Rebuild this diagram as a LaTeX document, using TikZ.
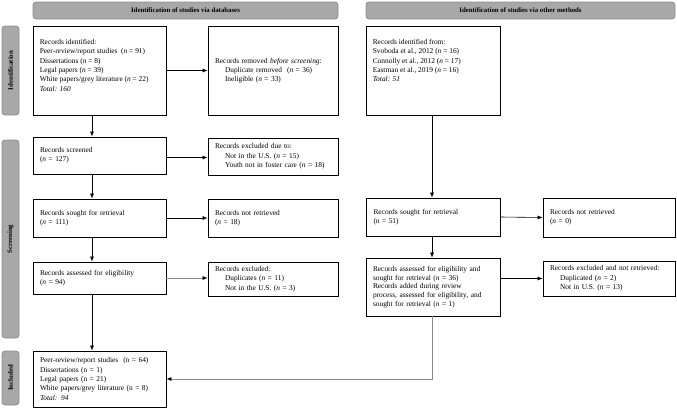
\documentclass[tikz,border=0pt]{standalone}
\usepackage{fontspec}
\setmainfont{Liberation Serif}
\usetikzlibrary{arrows.meta,calc}
\definecolor{hdrfill}{HTML}{A8A8A8}
\definecolor{hdrline}{HTML}{8C8C8C}
\definecolor{arrgray}{HTML}{8A8A8A}
\newcommand{\fs}{\fontsize{7.4}{9.3}\selectfont}
\newcommand{\nn}{\textit{n}}
\newcommand{\ind}{\hspace*{10pt}}
\begin{document}
\begin{tikzpicture}[x=1pt,y=-1pt,
  hdr/.style={draw=hdrline, fill=hdrfill, line width=0.7pt, rounded corners=3pt, inner sep=0pt,
    font=\fontsize{6.8}{8}\selectfont\bfseries},
  side/.style={hdr, rotate=90, minimum height=17pt},
  box/.style={draw=black, line width=0.8pt, inner xsep=7pt, inner ysep=0pt, align=left, font=\fs},
  txt/.style={inner sep=0pt, align=left, font=\fs, anchor=north west},
  arr/.style={draw=black, line width=0.6pt, -{Latex[length=5pt,width=4pt]}},
  arrg/.style={draw=arrgray, line width=0.7pt, -{Latex[length=5pt,width=4pt,color=black]}}
]
\useasboundingbox (0,0) rectangle (677,408);

% headers
\node[hdr, minimum width=305pt, minimum height=17pt] (hdrL) at (185.5,10.5) {Identification of studies via databases};
\node[hdr, minimum width=309pt, minimum height=17pt] (hdrR) at (520.5,10.5) {Identification of studies via other methods};

% side labels
\node[side, minimum width=89pt] (sideI) at (10.5,70.5) {Identification};
\node[side, minimum width=198pt] (sideS) at (10.5,239) {Screening};
\node[side, minimum width=54pt] (sideN) at (10.5,378) {Included};

% identification row
\node[box, text width=119pt, minimum height=89pt] (id1) at (99.5,70.5) {};
\node[txt] (id1t) at ([xshift=7pt,yshift=-13.5pt]id1.north west) {Records identified:\\
Peer-review/report studies~ (\nn{} = 91)\\
Dissertations (\nn{} = 8)\\
Legal papers (\nn{} = 39)\\
White papers/grey literature (\nn{} = 22)\\
\textit{Total: 160}};
\node[box, text width=116pt, minimum height=89pt] (rem) at (273,70.5) {Records removed \textit{before screening}:\\
\ind Duplicate removed~ (\nn{} = 36)\\
\ind Ineligible (\nn{} = 33)};
\node[box, text width=120pt, minimum height=89pt] (idR) at (433,70.5) {};
\node[txt] (idRt) at ([xshift=7pt,yshift=-13.5pt]idR.north west) {Records identified from:\\
Svoboda et al., 2012 (\nn{} = 16)\\
Connolly et al., 2012 (\nn{} = 17)\\
Eastman et al., 2019 (\nn{} = 16)\\
\textit{Total: 51}};

% screening rows
\node[box, text width=119pt, minimum height=37pt] (scr) at (99.5,155.5) {Records screened\\(\nn{} = 127)};
\node[box, text width=116pt, minimum height=37pt] (exc1) at (273,156.5) {Records excluded due to:\\
\ind Not in the U.S. (\nn{} = 15)\\
\ind Youth not in foster care (\nn{} = 18)};

\node[box, text width=119pt, minimum height=38pt] (sgt) at (99.5,218) {Records sought for retrieval\\(\nn{} = 111)};
\node[box, text width=116pt, minimum height=38pt] (nr1) at (273,218) {Records not retrieved\\(\nn{} = 18)};
\node[box, text width=120pt, minimum height=38pt] (sgtR) at (433.5,217) {Records sought for retrieval\\(\nn{} = 51)};
\node[box, text width=118pt, minimum height=39pt] (nrR) at (609,217.5) {Records not retrieved\\(\nn{} = 0)};

\node[box, text width=119pt, minimum height=32pt] (ass) at (99.5,278) {Records assessed for eligibility\\(\nn{} = 94)};
\node[box, text width=116pt, minimum height=34pt] (exc2) at (273,279) {Records excluded:\\
\ind Duplicates (\nn{} = 11)\\
\ind Not in the U.S. (\nn{} = 3)};
\node[box, text width=120pt, minimum height=58pt, font=\fontsize{7.4}{8.6}\selectfont] (assR) at (433,287) {Records assessed for eligibility and\\
sought for retrieval (\nn{} = 36)\\
Records added during review\\
process, assessed for eligibility, and\\
sought for retrieval (\nn{} = 1)};
\node[box, text width=118pt, minimum height=35pt] (excR) at (609,278.5) {Records excluded and not retrieved:\\
\ind Duplicated (\nn{} = 2)\\
\ind Not in U.S. (\nn{} = 13)};

% included
\node[box, text width=119pt, minimum height=56pt] (inc) at (99.5,379) {Peer-review/report studies~ (n = 64)\\
Dissertations (n = 1)\\
Legal papers (n = 21)\\
White papers/grey literature (n = 8)\\
\textit{Total: 94}};

% arrows left column
\draw[arr] ([xshift=-7.5pt]id1.south) -- ([xshift=-7.5pt]scr.north);
\draw[arr] ([xshift=-7.5pt]scr.south) -- ([xshift=-7.5pt]sgt.north);
\draw[arr] ([xshift=-7.5pt]sgt.south) -- ([xshift=-7.5pt]ass.north);
\draw[arr] ([xshift=-7.5pt]ass.south) -- ([xshift=-7.5pt]inc.north);
\draw[arr] (id1.east) -- (rem.west);
\draw[arr] ([yshift=-1pt]scr.east |- exc1.west) -- ([yshift=-1pt]exc1.west);
\draw[arr] (sgt.east) -- (nr1.west);
\draw[arrg] (ass.east) -- (exc2.west |- ass.east);

% arrows right column
\draw[arr] ([xshift=-1pt]idR.south) -- ([xshift=-1.5pt]sgtR.north);
\draw[arr] ([xshift=-1.5pt]sgtR.south) -- ([xshift=-1pt]assR.north);
\draw[arr] (sgtR.east) -- (nrR.west);
\draw[arr] (assR.east |- excR.west) -- (excR.west);
\draw[arrg] ([xshift=-1pt]assR.south) |- (inc.east);
\end{tikzpicture}
\end{document}
